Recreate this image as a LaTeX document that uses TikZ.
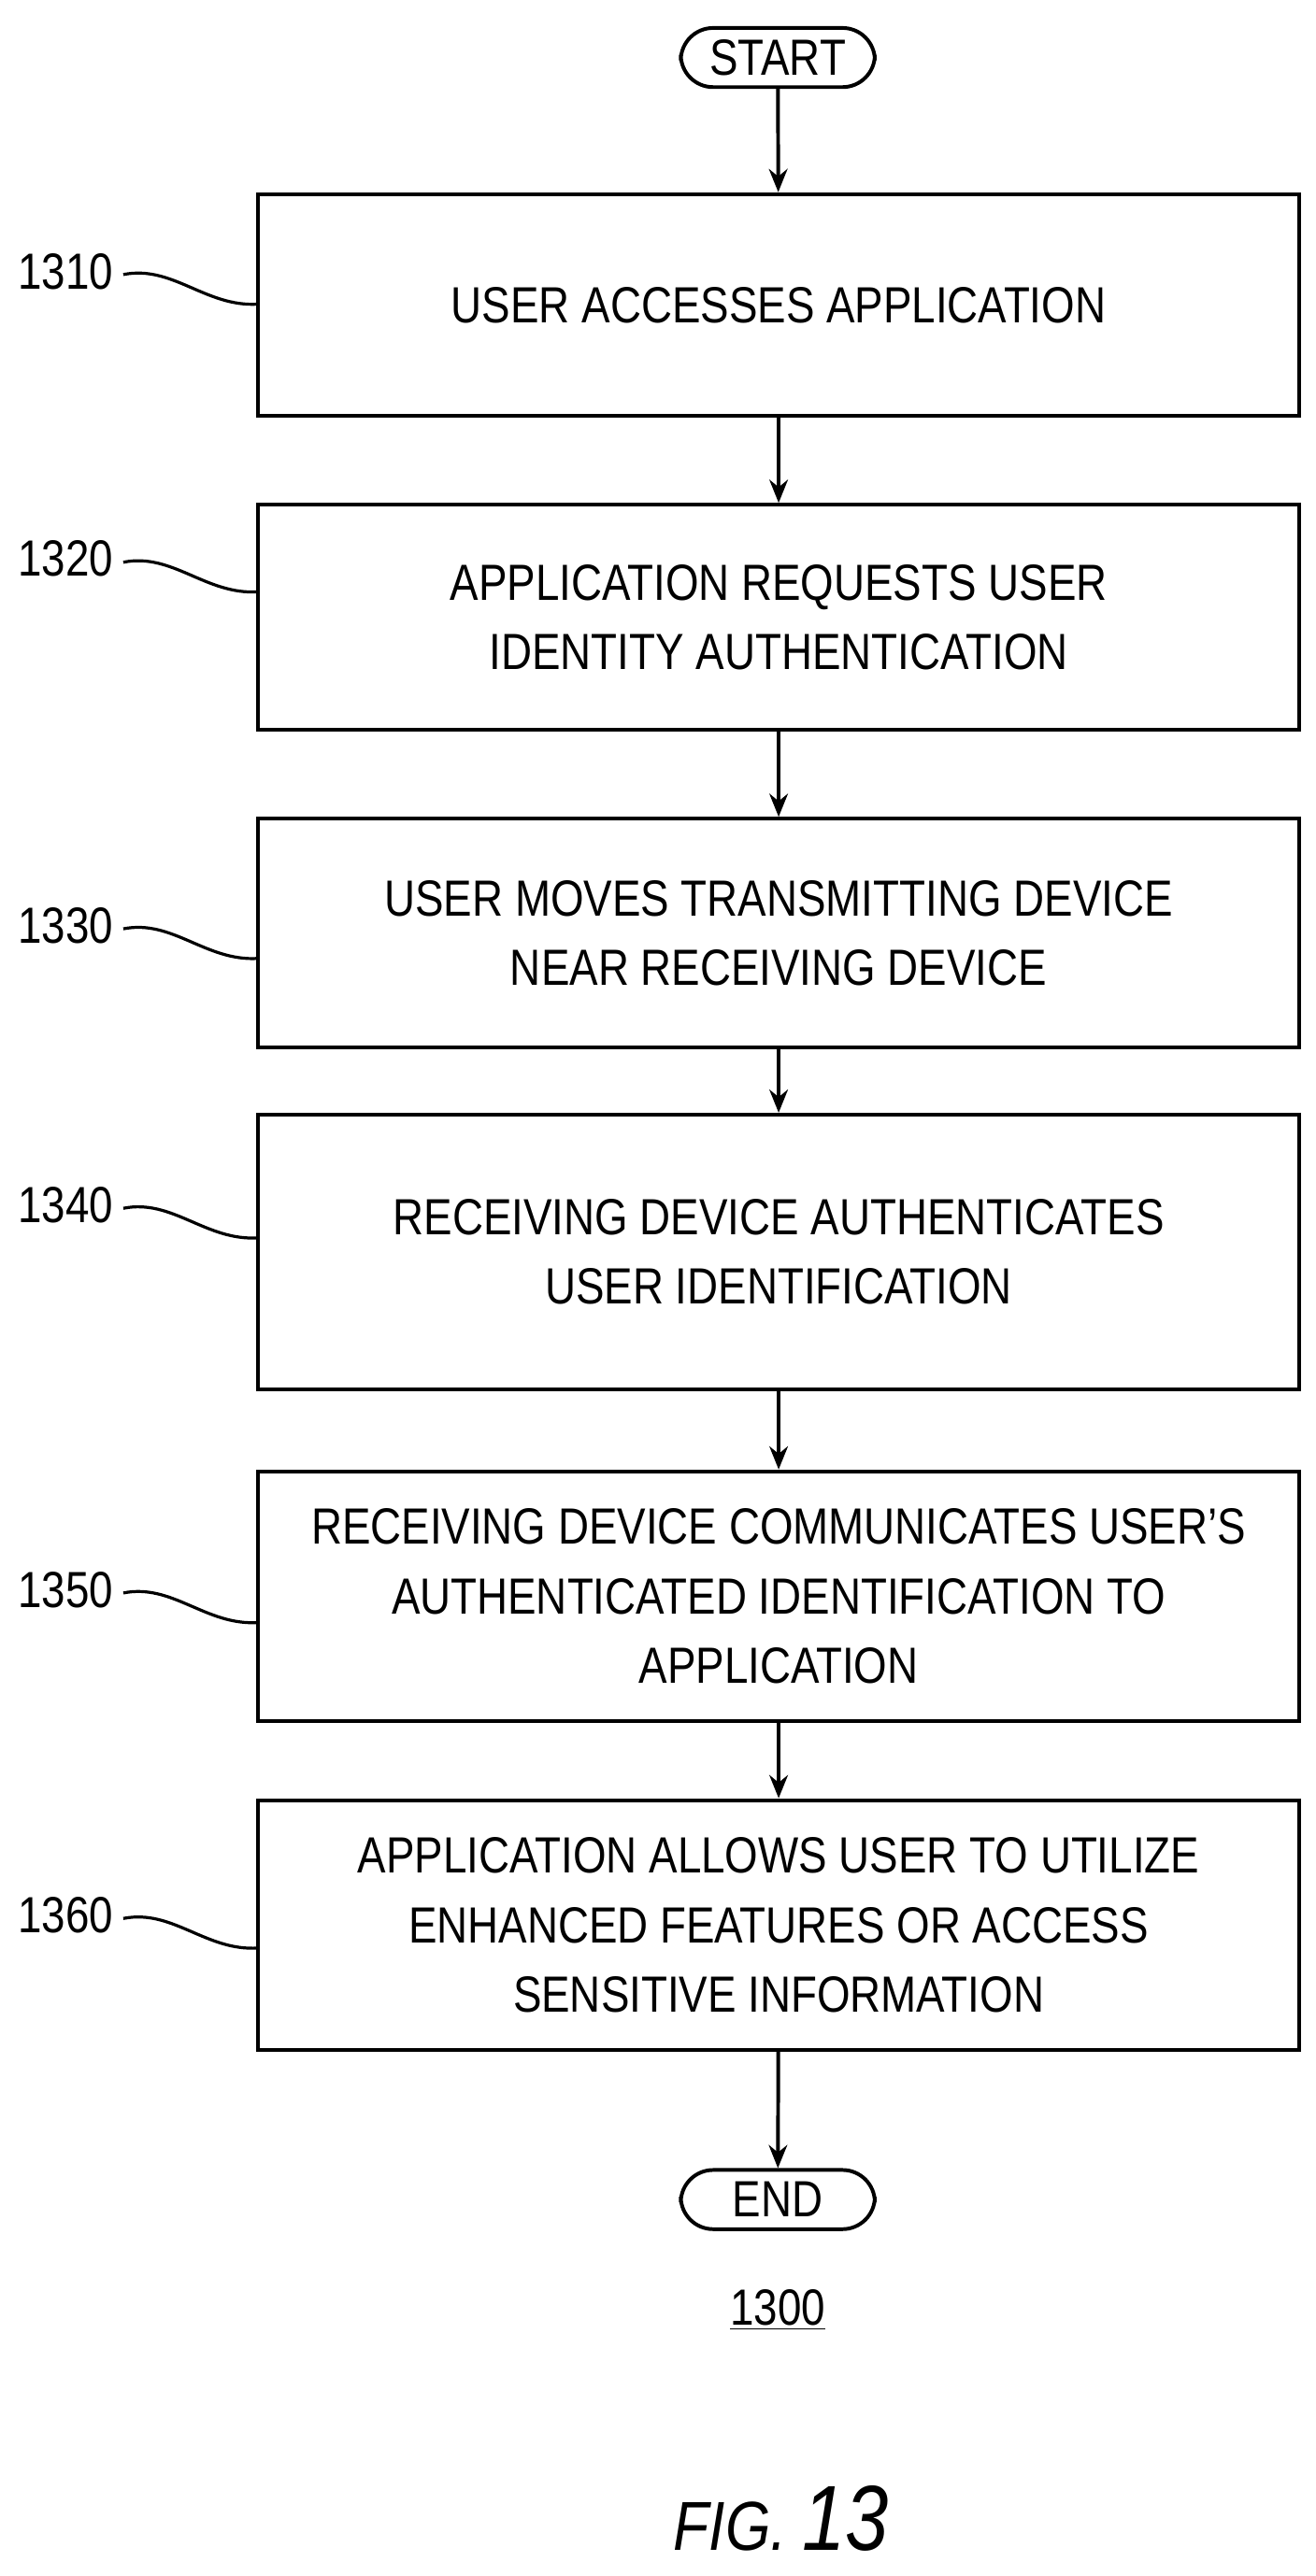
\documentclass[tikz,border=0pt]{standalone}
\usepackage{fontspec}
\usetikzlibrary{arrows.meta}
\setmainfont{Liberation Sans}[FakeStretch=0.84]
\begin{document}
\begin{tikzpicture}[x=0.025cm,y=-0.025cm,
  box/.style={draw,line width=1.6pt,minimum width=633*0.025cm,align=center,font=\fontsize{22}{30}\selectfont,inner sep=0pt},
  term/.style={draw,line width=1.6pt,rounded corners=14pt,minimum width=118*0.025cm,minimum height=36*0.025cm,font=\fontsize{22}{26}\selectfont,inner sep=0pt},
  arr/.style={line width=1.6pt,-{Stealth[length=10pt,width=8pt]}},
  lbl/.style={font=\fontsize{22}{26}\selectfont},
  sq/.style={line width=1.3pt}]
\useasboundingbox (0,0) rectangle (800,1567);
\node[term] (start) at (473,35) {START};
\node[box,minimum height=135*0.025cm] (b1) at (473.5,185.5) {USER ACCESSES APPLICATION};
\node[box,minimum height=137*0.025cm] (b2) at (473.5,375.5) {APPLICATION REQUESTS USER\\IDENTITY AUTHENTICATION};
\node[box,minimum height=139*0.025cm] (b3) at (473.5,567.5) {USER MOVES TRANSMITTING DEVICE\\NEAR RECEIVING DEVICE};
\node[box,minimum height=167*0.025cm] (b4) at (473.5,761.5) {RECEIVING DEVICE AUTHENTICATES\\USER IDENTIFICATION};
\node[box,minimum height=152*0.025cm] (b5) at (473.5,971) {RECEIVING DEVICE COMMUNICATES USER'S\\AUTHENTICATED IDENTIFICATION TO\\APPLICATION};
\node[box,minimum height=152*0.025cm] (b6) at (473.5,1171) {APPLICATION ALLOWS USER TO UTILIZE\\ENHANCED FEATURES OR ACCESS\\SENSITIVE INFORMATION};
\node[term] (end) at (473,1338) {END};
\node[lbl] (num) at (473,1405) {\underline{1300}};
\node[font=\fontsize{40}{44}\selectfont] (fig) at (475,1532) {\textit{\fontsize{30}{34}\selectfont FIG.}\,\textit{13}};
\draw[arr] (start) -- (b1);
\draw[arr] (b1) -- (b2);
\draw[arr] (b2) -- (b3);
\draw[arr] (b3) -- (b4);
\draw[arr] (b4) -- (b5);
\draw[arr] (b5) -- (b6);
\draw[arr] (b6) -- (end);
\foreach \n/\y/\b in {1310/165/b1,1320/340/b2,1330/563/b3,1340/733/b4,1350/967/b5,1360/1165/b6}{
  \node[lbl] (l\n) at (40,\y) {\n};
  \coordinate (e\n) at (157,\y+20);
  \draw[sq] (75,\y+2) .. controls (105,\y-4) and (125,\y+22) .. (e\n);
}
\end{tikzpicture}
\end{document}
